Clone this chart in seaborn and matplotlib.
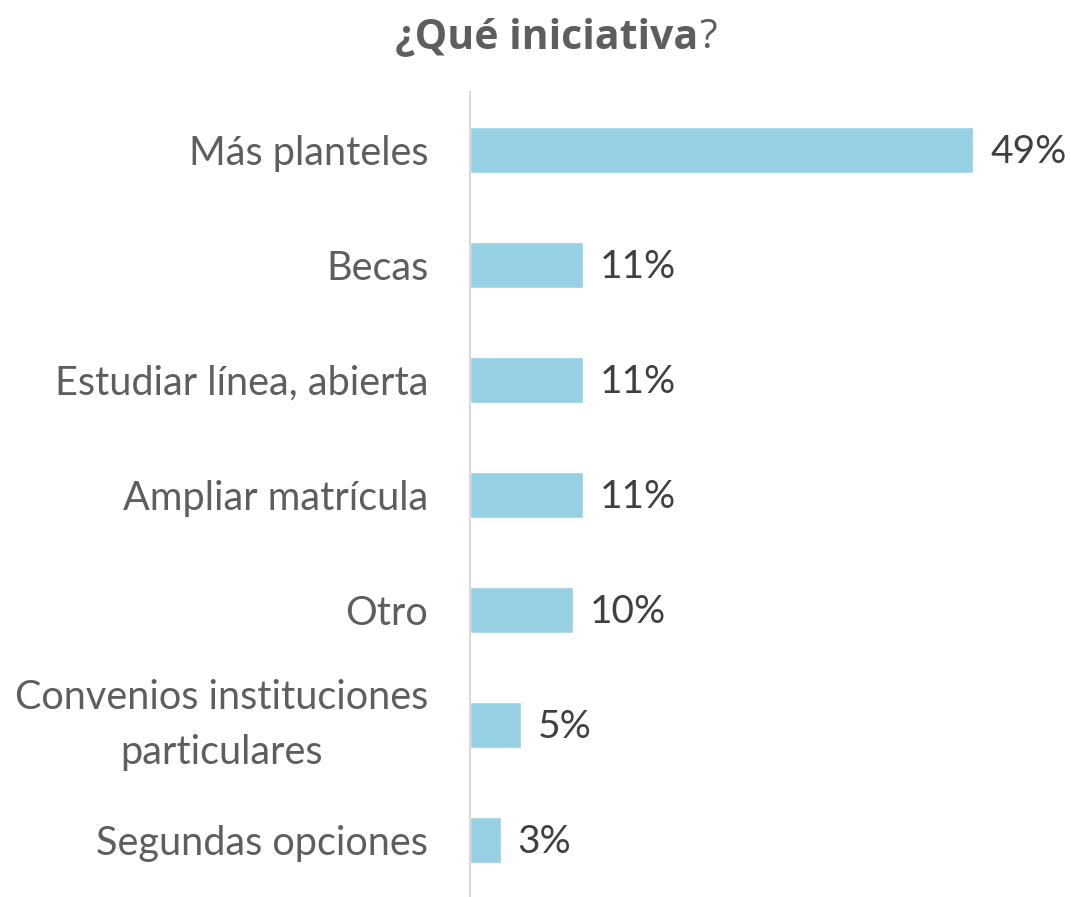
import pandas as pd
import matplotlib.pyplot as plt
import seaborn as sns
from matplotlib import font_manager

# ── Data ───────────────────────────────────────────────────────────────────────
categories = [
    'Más planteles',
    'Becas',
    'Estudiar línea, abierta',
    'Ampliar matrícula',
    'Otro',
    'Convenios instituciones\nparticulares',
    'Segundas opciones',
]
values = [49, 11, 11, 11, 10, 5, 3]
value_labels = ['49%', '11%', '11%', '11%', '10%', '5%', '3%']

df = pd.DataFrame({'Categoria': categories, 'Valor': values})

# ── Style ──────────────────────────────────────────────────────────────────────
sns.set_theme(style='white')
names = {f.name for f in font_manager.fontManager.ttflist}
label_font = ['Lato', 'DejaVu Sans'] if 'Lato' in names else ['DejaVu Sans']
plt.rcParams['font.family'] = label_font

BAR = '#96D0E2'
GREY = '#5E5E5E'
DARK = '#404040'

fig = plt.figure(figsize=(10.71, 8.97), dpi=100)
ax = fig.add_axes([470 / 1071, 0.0, 565 / 1071, 1 - 92 / 897])

sns.barplot(data=df, x='Valor', y='Categoria', color=BAR, width=0.4,
            saturation=1, ax=ax)

ax.set_xlim(0, 55)
ax.set_ylim(6.5, -0.5)
ax.set_xlabel('')
ax.set_ylabel('')
ax.set_xticks([])

for s in ['top', 'right', 'bottom']:
    ax.spines[s].set_visible(False)
ax.spines['left'].set_color('#D9D9D9')
ax.spines['left'].set_linewidth(1.5)

ax.tick_params(axis='y', length=0, pad=30)
for lab in ax.get_yticklabels():
    lab.set_fontsize(28.5)
    lab.set_color(GREY)
    lab.set_fontweight('normal')
    lab.set_multialignment('center')
    lab.set_linespacing(1.6)
    if '\n' in lab.get_text():
        lab.set_va('center')

for i, (v, t) in enumerate(zip(values, value_labels)):
    ax.annotate(t, xy=(v, i), xytext=(12, -2), textcoords='offset points',
                va='center', ha='left', fontsize=28, color=DARK,
                clip_on=False)

# title: bold part + regular question mark
title_font = ['Open Sans', 'DejaVu Sans']
t = fig.text(395 / 1071, 1 - 48 / 897, '¿Qué iniciativa', fontsize=29.5,
             fontweight='bold', color=GREY, family=title_font,
             ha='left', va='baseline')
ax.annotate('?', xy=(1, 0), xycoords=t, xytext=(1, 0),
            textcoords='offset points', fontsize=29.5, color=GREY,
            family=title_font, ha='left', va='bottom')

plt.savefig('out.png', dpi=100)
plt.close()
